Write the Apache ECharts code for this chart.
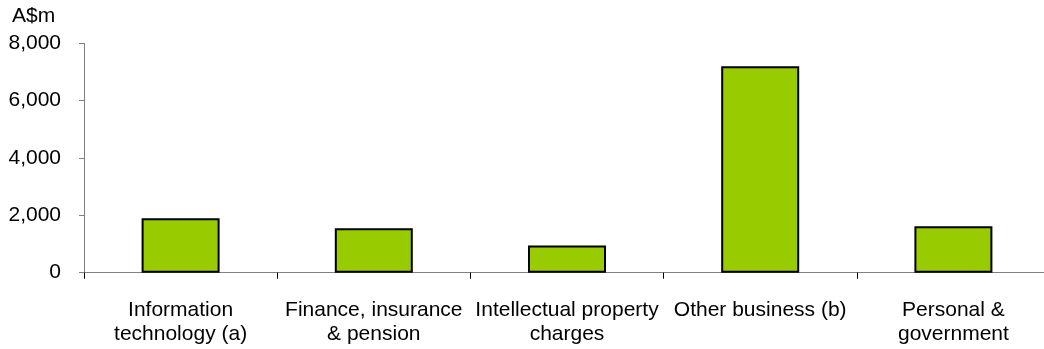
<!DOCTYPE html>
<html>
<head>
<meta charset="utf-8">
<script src="https://cdn.jsdelivr.net/npm/echarts@6/dist/echarts.min.js"></script>
<style>
html,body{margin:0;padding:0;background:#fff;overflow:hidden;width:1044px;height:349px;}
#chart{width:1050px;height:349px;}
</style>
</head>
<body>
<div id="chart"></div>
<script>
var categories = ["Information\ntechnology (a)", "Finance, insurance\n& pension", "Intellectual property\ncharges", "Other business (b)", "Personal &\ngovernment"];
var values = [1900, 1550, 950, 7200, 1620];
var yTicks = [0, 2000, 4000, 6000, 8000];

var chart = echarts.init(document.getElementById('chart'));
chart.setOption({
  animation: false,
  backgroundColor: '#ffffff',
  textStyle: { fontFamily: 'Liberation Sans, Arial, sans-serif' },
  graphic: [{
    type: 'text', left: 12, top: 6,
    style: { text: 'A$m', fontSize: 21, fill: '#000', fontFamily: 'Liberation Sans, Arial, sans-serif' }
  }],
  grid: { left: 84, right: 0, top: 43.3, bottom: 76.3, containLabel: false },
  xAxis: {
    type: 'category',
    data: categories,
    boundaryGap: true,
    axisLine: { lineStyle: { color: '#808080', width: 1 } },
    axisTick: { show: true, length: 6, lineStyle: { color: '#000', width: 1 } },
    axisLabel: { color: '#000', fontSize: 21, lineHeight: 24, margin: 26, interval: 0, fontFamily: 'Liberation Sans, Arial, sans-serif' },
    splitLine: { show: false }
  },
  yAxis: {
    type: 'value',
    min: yTicks[0], max: yTicks[yTicks.length - 1], interval: 2000,
    axisLine: { show: true, lineStyle: { color: '#808080', width: 1 } },
    axisTick: { show: true, length: 5, lineStyle: { color: '#808080', width: 1 } },
    axisLabel: {
      color: '#000', fontSize: 21, margin: 23, fontFamily: 'Liberation Sans, Arial, sans-serif',
      formatter: function (v) { return v.toLocaleString('en-US'); }
    },
    splitLine: { show: false }
  },
  series: [{
    type: 'bar',
    data: values,
    barWidth: 78,
    itemStyle: { color: '#99cc00', borderColor: '#000', borderWidth: 2 }
  }]
});
</script>
</body>
</html>
